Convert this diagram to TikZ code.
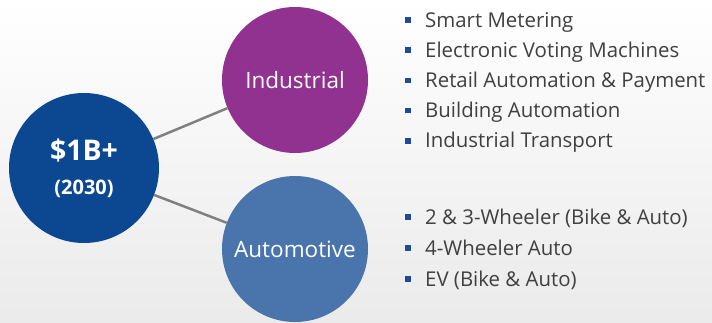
\documentclass[tikz,border=0pt]{standalone}
\usepackage{fontspec}
\setmainfont{Open Sans}
\usetikzlibrary{positioning}
\definecolor{cHub} {RGB}{12,72,145}
\definecolor{cInd} {RGB}{146,50,144}
\definecolor{cAuto}{RGB}{74,116,172}
\definecolor{cBul} {RGB}{30,75,150}
\definecolor{cTxt} {RGB}{64,64,64}
\definecolor{cLink}{RGB}{128,128,128}
\tikzset{
  hub/.style={circle,fill=cHub,minimum size=150pt,inner sep=0pt,
              text=white,align=center,font=\bfseries\fontsize{20}{34}\selectfont},
  seg/.style={circle,minimum size=146pt,inner sep=0pt,text=white,
              font=\fontsize{22.5}{27}\selectfont},
  segI/.style={seg,fill=cInd},   % industrial
  segA/.style={seg,fill=cAuto},  % automotive
  link/.style={-,cLink,line width=2.5pt},
  sq/.style={fill=cBul,minimum size=5.5pt,inner sep=0pt}, % bullet square
  item/.style={anchor=base west,inner sep=0pt,text=cTxt,
               font=\fontsize{20.4}{24}\selectfont},
}
\begin{document}
\begin{tikzpicture}[x=1pt,y=-1pt]
  % ---- background ----
  \shade[top color=white,bottom color=black!8] (0,0) rectangle (712,322);
  \useasboundingbox (0,0) rectangle (712,322);

  % ---- circles ----
  \node[hub]  (hub) at (84,168)  {{\fontsize{28.5}{34}\selectfont \$1B+}\\(2030)};
  \node[segI] (ind) at (295,80)  {Industrial};
  \node[segA] (aut) at (295,249) {Automotive};
  \draw[link] (hub)--(ind);
  \draw[link] (hub)--(aut);

  % ---- industrial list ----
  \foreach \t [count=\i] in {Smart Metering,Electronic Voting Machines,
      Retail Automation \& Payment,Building Automation,Industrial Transport}{
    \node[sq] (bi\i) at (408,{20+30.2*(\i-1)}) {};
    \node[item] (ti\i) at (425,{27+30.2*(\i-1)}) {\t};
  }

  % ---- automotive list ----
  \foreach \t [count=\i] in {2 \& 3-Wheeler (Bike \& Auto),4-Wheeler Auto,
      EV (Bike \& Auto)}{
    \node[sq] (ba\i) at (408,{217+31*(\i-1)}) {};
    \node[item] (ta\i) at (425,{224+31*(\i-1)}) {\t};
  }
\end{tikzpicture}
\end{document}
